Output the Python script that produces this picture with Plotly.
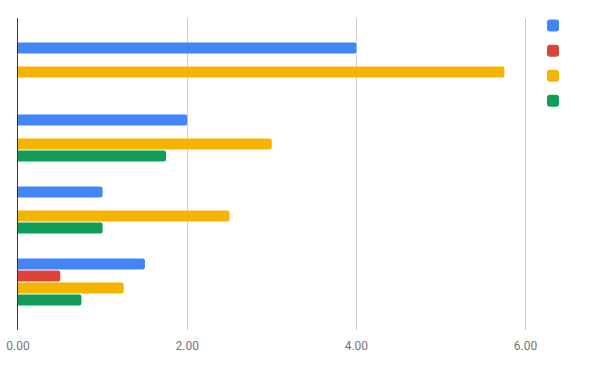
import plotly.graph_objects as go

categories = ["A", "B", "C", "D"]
series_names = ["", "", "", ""]
blue_values = [4.0, 2.0, 1.0, 1.5]
red_values = [None, None, None, 0.5]
yellow_values = [5.75, 3.0, 2.5, 1.25]
green_values = [None, 1.75, 1.0, 0.75]
x_tick_values = [0, 2, 4, 6]
x_tick_labels = ["0.00", "2.00", "4.00", "6.00"]

colors = ["#4285F4", "#DB4437", "#F4B400", "#0F9D58"]
series = [blue_values, red_values, yellow_values, green_values]

fig = go.Figure()
for name, vals, col in zip(series_names, series, colors):
    fig.add_trace(go.Bar(
        y=categories, x=vals, orientation="h", name=name,
        marker=dict(color=col, line=dict(width=0)),
    ))

fig.update_layout(
    width=600, height=371,
    margin=dict(l=18, r=66, t=18, b=41, autoexpand=False),
    paper_bgcolor="white", plot_bgcolor="white",
    barmode="group", bargap=0.333, bargroupgap=0.08,
    barcornerradius=2,
    font=dict(family="Roboto, Arial, sans-serif", size=12, color="#757575"),
    showlegend=True,
    legend=dict(
        xref="container", yref="container",
        x=533 / 600, xanchor="left", y=1 - 8 / 371, yanchor="top",
        font=dict(size=17), itemwidth=30,
        traceorder="normal", bgcolor="rgba(0,0,0,0)",
    ),
    xaxis=dict(
        range=[0, 6.1], tickvals=x_tick_values, ticktext=x_tick_labels,
        showgrid=True, gridcolor="#cccccc", gridwidth=1,
        zeroline=False, showline=False, ticks="", automargin=False,
        ticklabeloverflow="allow", ticklabelstandoff=7,
        tickfont=dict(size=12, color="#757575"),
    ),
    yaxis=dict(
        type="category", range=[3.667, -0.667], automargin=False,
        showticklabels=False, showgrid=False, zeroline=False,
        showline=True, linecolor="#333333", linewidth=1, ticks="",
    ),
)

fig.write_html(
    "out.html",
    config={"displayModeBar": False},
    post_script="document.body.style.margin='0';",
)
